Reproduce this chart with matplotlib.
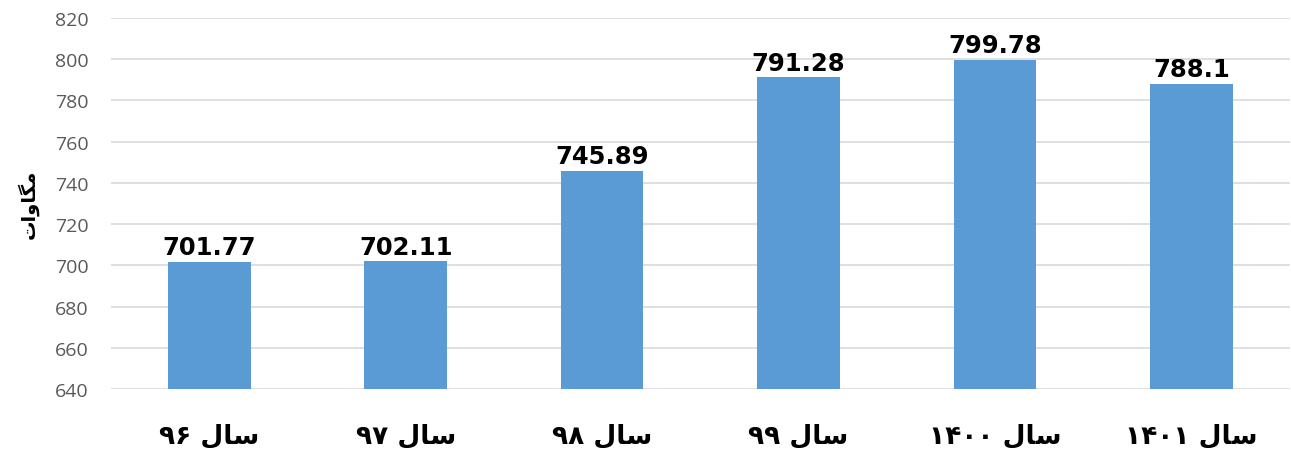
"""
Bar chart of yearly peak demand (MW), Persian labels.
"""

import matplotlib.pyplot as plt

# Persian glyphs are written in presentation forms, visual left-to-right order,
# since matplotlib does no Arabic shaping itself.
SAL = "\uFEDD\uFE8E\uFEB3"                            # سال
MEGAWATT = "\uFE95\uFE8D\uFEED\uFE8E\uFB95\uFEE3"     # مگاوات

years = ["۹۶", "۹۷", "۹۸", "۹۹", "۱۴۰۰", "۱۴۰۱"]
values = [701.77, 702.11, 745.89, 791.28, 799.78, 788.1]
value_labels = ["701.77", "702.11", "745.89", "791.28", "799.78", "788.1"]
yticks = [640, 660, 680, 700, 720, 740, 760, 780, 800, 820]

categories = [y + " " + SAL for y in years]

fig = plt.figure(figsize=(12.91, 4.52), dpi=100)
ax = fig.add_axes([0.086, 0.137, 0.913, 0.821])

x = list(range(len(values)))
ax.bar(x, values, width=0.42, color="#5B9BD5", zorder=2)

for xi, v, lab in zip(x, values, value_labels):
    ax.text(xi, v + 1.2, lab, ha="center", va="bottom",
            fontsize=17.5, fontweight="bold", family="DejaVu Sans")

ax.set_ylim(640, 820)
ax.set_xlim(-0.5, len(values) - 0.5)
ax.set_yticks(yticks)
ax.set_xticks(x)
ax.set_xticklabels(categories, fontsize=19, fontweight="bold", family="DejaVu Sans")
ax.tick_params(axis="y", labelsize=14, colors="#595959", length=0, pad=16)
ax.tick_params(axis="x", length=0, pad=24)
for lab in ax.get_yticklabels():
    lab.set_family("Open Sans")

ax.grid(axis="y", color="#D9D9D9", linewidth=1.2, zorder=0)
for s in ax.spines.values():
    s.set_visible(False)

ax.set_ylabel(MEGAWATT, fontsize=14, fontweight="bold", family="DejaVu Sans", labelpad=12)

fig.savefig("out.png", dpi=100)
